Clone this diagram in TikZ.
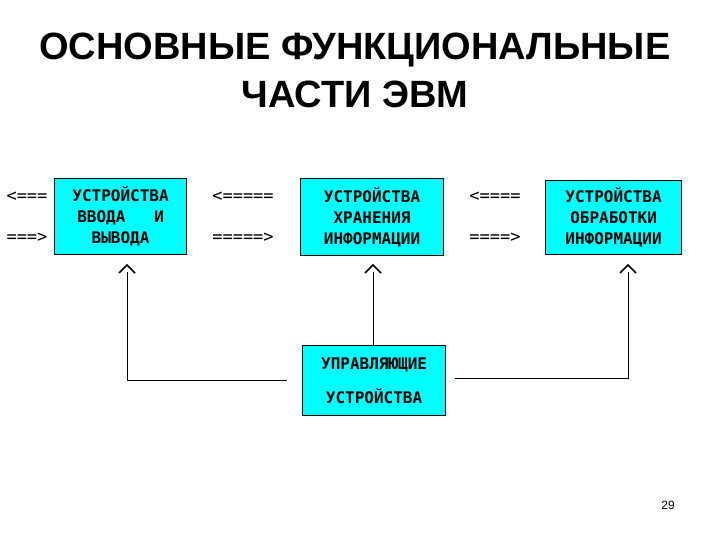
\documentclass[tikz,border=0pt]{standalone}
\usepackage{fontspec}
\setmainfont{Liberation Sans}
\newfontfamily\monof{DejaVu Sans Mono}
\definecolor{boxc}{RGB}{0,255,255}
\begin{document}
\begin{tikzpicture}[x=1pt,y=-1pt,
 box/.style={draw=black,line width=1.2pt,fill=boxc,inner sep=0pt,anchor=north west,align=center,font=\monof\bfseries\fontsize{16}{21}\selectfont},
 lbl/.style={font=\monof\fontsize{17}{19}\selectfont,inner sep=0pt},
 ln/.style={line width=1pt}]
\fill[white] (0,0) rectangle (720,540);
\useasboundingbox (0,0) rectangle (720,540);
\node[font=\bfseries\fontsize{38}{48}\selectfont,align=center] (title) at (355,70) {ОСНОВНЫЕ ФУНКЦИОНАЛЬНЫЕ\\ЧАСТИ ЭВМ};
\node[box,minimum width=132pt,minimum height=76pt] (b1) at (54,178) {УСТРОЙСТВА\\ВВОДА\ \ \ И\\ВЫВОДА};
\node[box,minimum width=143pt,minimum height=77pt] (b2) at (300,178) {УСТРОЙСТВА\\ХРАНЕНИЯ\\ИНФОРМАЦИИ};
\node[box,minimum width=136pt,minimum height=74pt] (b3) at (545,180) {УСТРОЙСТВА\\ОБРАБОТКИ\\ИНФОРМАЦИИ};
\node[box,minimum width=143pt,minimum height=70pt,font=\monof\bfseries\fontsize{16}{34}\selectfont] (c) at (302,345) {УПРАВЛЯЮЩИЕ\\УСТРОЙСТВА};
\node[lbl] (l1) at (27,197) {<===};
\node[lbl] (l2) at (27,238) {===>};
\node[lbl] (l3) at (243,197) {<=====};
\node[lbl] (l4) at (243,238) {=====>};
\node[lbl] (l5) at (495,197) {<====};
\node[lbl] (l6) at (495,238) {====>};
\node[font=\fontsize{12}{14}\selectfont] (pg) at (668,505) {29};
\coordinate (t1) at (127,272); \coordinate (t2) at (373,272); \coordinate (t3) at (628,272);
\coordinate (k1) at (127,380); \coordinate (e1) at (287,380);
\coordinate (e3) at (455,378); \coordinate (k3) at (628,378);
\draw[ln] (e1) -- (k1) -- (t1);
\draw[ln] (c.north -| t2) -- (t2);
\draw[ln] (e3) -- (k3) -- (t3);
\foreach \p in {t1,t2,t3}{\draw[ln,line width=1.5pt] ([shift={(-8,1)}]\p) -- ([shift={(0,-7)}]\p) -- ([shift={(8,1)}]\p);}
\end{tikzpicture}
\end{document}
